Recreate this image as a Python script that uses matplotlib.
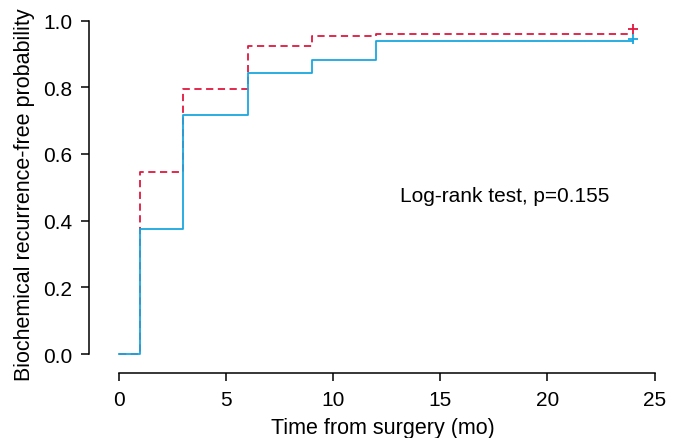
import numpy as np
import matplotlib
matplotlib.use("Agg")
import matplotlib.pyplot as plt

plt.rcParams['font.family'] = ['Liberation Sans', 'DejaVu Sans']

# step curves (time in months, survival probability)
t_red = [0, 1, 3, 6, 9, 12, 24]
s_red = [0.0, 0.546, 0.796, 0.925, 0.955, 0.960, 0.960]
t_blue = [0, 1, 3, 6, 9, 12, 24]
s_blue = [0.0, 0.375, 0.716, 0.844, 0.883, 0.938, 0.938]

# censoring marks
cens_t = [24, 24]
cens_s_red = 0.976
cens_s_blue = 0.946

red = '#E0183F'
blue = '#1AA7E1'

fig = plt.figure(figsize=(6.81, 4.39), dpi=100)
ax = fig.add_axes([0.1307, 0.148, 0.862, 0.818])

ax.step(t_red, s_red, where='post', color=red, lw=1.3, linestyle=(0, (4, 2.5)))
ax.step(t_blue, s_blue, where='post', color=blue, lw=1.3)
ax.plot(cens_t[0], cens_s_red, marker='+', color=red, ms=6.5, mew=1.3, linestyle='none')
ax.plot(cens_t[1], cens_s_blue, marker='+', color=blue, ms=6.5, mew=1.3, linestyle='none')

ax.text(13.1, 0.474, 'Log-rank test, p=0.155', fontsize=15, va='center', ha='left')

ax.set_xlim(-1.4, 26)
ax.set_ylim(-0.057, 1.02)
ax.set_xticks([0, 5, 10, 15, 20, 25])
ax.set_yticks([0.0, 0.2, 0.4, 0.6, 0.8, 1.0])
ax.set_yticklabels(['0.0', '0.2', '0.4', '0.6', '0.8', '1.0'])
ax.spines['top'].set_visible(False)
ax.spines['right'].set_visible(False)
ax.spines['left'].set_bounds(0, 1)
ax.spines['bottom'].set_bounds(0, 25)
for s in ['left', 'bottom']:
    ax.spines[s].set_linewidth(1.1)
ax.tick_params(axis='both', direction='out', length=6, width=1.1, labelsize=15, pad=6)
ax.set_xlabel('Time from surgery (mo)', fontsize=15.5, labelpad=6)
ax.set_ylabel('Biochemical recurrence-free probability', fontsize=15.5, labelpad=6)

fig.savefig('out.png', dpi=100)
